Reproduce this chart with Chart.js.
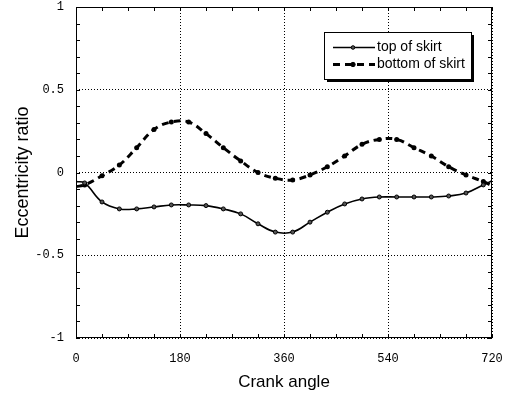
<!DOCTYPE html>
<html>
<head>
<meta charset="utf-8">
<script src="https://cdn.jsdelivr.net/npm/chart.js@4"></script>
<style>
  html, body { margin: 0; padding: 0; background: #fff; }
  #wrap { width: 512px; height: 401px; }
</style>
</head>
<body>
<div id="wrap"><canvas id="eccChart" width="512" height="401"></canvas></div>
<script>
// crank angle (deg) - markers sit at 15 + 30k
const angles = [0, 15, 45, 75, 105, 135, 165, 195, 225, 255, 285, 315, 345,
                375, 405, 435, 465, 495, 525, 555, 585, 615, 645, 675, 705, 720];
const topOfSkirt = [-0.055, -0.063, -0.178, -0.22, -0.22, -0.208, -0.196, -0.196, -0.20, -0.22, -0.25, -0.31, -0.36,
                    -0.36, -0.30, -0.24, -0.19, -0.16, -0.148, -0.148, -0.148, -0.148, -0.142, -0.124, -0.075, -0.05];
const bottomOfSkirt = [-0.085, -0.075, -0.02, 0.045, 0.15, 0.26, 0.305, 0.305, 0.235, 0.15, 0.07, 0.0, -0.035,
                       -0.045, -0.015, 0.035, 0.1, 0.17, 0.2, 0.2, 0.15, 0.1, 0.035, -0.015, -0.055, -0.08];
const seriesNames = ["top of skirt", "bottom of skirt"];
const xTicks = [0, 180, 360, 540, 720];
const yTicks = [-1, -0.5, 0, 0.5, 1];
const yTickLabels = ["-1", "-0.5", "0", "0.5", "1"];

function markerAt(c) {
    return angles[c.dataIndex] % 30 === 15;
}

// let the plot box reach the layout padding, labels may overhang
function noOverhang(s) {
    s.paddingTop = 0; s.paddingBottom = 0;
    s.paddingLeft = 0; s.paddingRight = 0;
}

const frameAndLegend = {
    id: 'frameAndLegend',
    afterDraw(chart) {
        const ctx = chart.ctx;
        const a = chart.chartArea;
        const x = chart.scales.x, y = chart.scales.y;
        ctx.save();
        ctx.strokeStyle = '#000';
        ctx.lineWidth = 1;
        // frame
        ctx.strokeRect(Math.round(a.left) + 0.5, Math.round(a.top) + 0.5,
                       Math.round(a.width) - 1, Math.round(a.height) - 1);
        // inward ticks on all four sides
        ctx.beginPath();
        x.ticks.forEach(t => {
            const px = Math.round(x.getPixelForValue(t.value)) + 0.5;
            ctx.moveTo(px, a.bottom); ctx.lineTo(px, a.bottom - 4);
            ctx.moveTo(px, a.top); ctx.lineTo(px, a.top + 4);
        });
        y.ticks.forEach(t => {
            const py = Math.round(y.getPixelForValue(t.value)) + 0.5;
            ctx.moveTo(a.left, py); ctx.lineTo(a.left + 4, py);
            ctx.moveTo(a.right, py); ctx.lineTo(a.right - 4, py);
        });
        ctx.stroke();

        // legend box with shadow
        const bx = 324, by = 32, bw = 147, bh = 47;
        ctx.fillStyle = '#000';
        ctx.fillRect(bx + 3, by + 3, bw, bh);
        ctx.fillStyle = '#fff';
        ctx.fillRect(bx, by, bw, bh);
        ctx.strokeRect(bx + 0.5, by + 0.5, bw, bh);

        ctx.font = '14px "Liberation Sans", Arial, sans-serif';
        ctx.textBaseline = 'middle';
        ctx.fillStyle = '#000';
        const rows = [47, 64];
        chart.data.datasets.forEach((ds, i) => {
            const ly = rows[i] + 0.5;
            ctx.save();
            ctx.lineWidth = ds.borderWidth;
            ctx.setLineDash(ds.borderDash || []);
            ctx.beginPath();
            ctx.moveTo(333, ly); ctx.lineTo(375, ly);
            ctx.stroke();
            ctx.setLineDash([]);
            ctx.beginPath();
            ctx.arc(353, ly, ds.legendRadius, 0, Math.PI * 2);
            ctx.fillStyle = ds.pointBackgroundColor;
            ctx.fill();
            ctx.lineWidth = 1;
            ctx.stroke();
            ctx.restore();
            ctx.fillText(ds.label, 377, rows[i]);
        });
        ctx.restore();
    }
};

const ctx = document.getElementById('eccChart');
new Chart(ctx, {
    type: 'line',
    data: {
        datasets: [{
            label: seriesNames[0],
            data: angles.map((a, i) => ({x: a, y: topOfSkirt[i]})),
            borderColor: '#000',
            borderWidth: 1.6,
            tension: 0.4,
            pointRadius: c => markerAt(c) ? 2 : 0,
            pointBackgroundColor: '#555',
            pointBorderColor: '#000',
            pointBorderWidth: 1,
            legendRadius: 1.8,
            fill: false
        }, {
            label: seriesNames[1],
            data: angles.map((a, i) => ({x: a, y: bottomOfSkirt[i]})),
            borderColor: '#000',
            borderWidth: 3,
            borderDash: [7, 5],
            tension: 0.4,
            pointRadius: c => markerAt(c) ? 2.5 : 0,
            pointBackgroundColor: '#000',
            pointBorderColor: '#000',
            pointBorderWidth: 0,
            legendRadius: 2.2,
            fill: false
        }]
    },
    options: {
        responsive: false,
        animation: false,
        layout: { padding: { left: 0, top: 7, right: 20, bottom: 0 } },
        plugins: {
            legend: { display: false },
            tooltip: { enabled: false }
        },
        scales: {
            x: {
                type: 'linear',
                min: 0,
                max: 720,
                afterFit: s => { s.height = 63; noOverhang(s); },
                ticks: {
                    stepSize: 45,
                    autoSkip: false,
                    maxRotation: 0,
                    padding: 14,
                    color: '#000',
                    font: { family: '"Liberation Mono", "DejaVu Sans Mono", monospace', size: 12 },
                    callback: v => xTicks.includes(v) ? String(v) : ''
                },
                grid: {
                    drawTicks: false,
                    color: c => (c.tick && xTicks.includes(c.tick.value)) ? '#000' : 'rgba(0,0,0,0)',
                    lineWidth: 1
                },
                border: { display: false, dash: [1, 2] },
                title: {
                    display: true,
                    text: 'Crank angle',
                    color: '#000',
                    font: { family: '"Liberation Sans", Arial, sans-serif', size: 17 },
                    padding: { top: 0, bottom: 8 }
                }
            },
            y: {
                type: 'linear',
                min: -1,
                max: 1,
                afterFit: s => { s.width = 76; noOverhang(s); },
                ticks: {
                    stepSize: 0.1,
                    autoSkip: false,
                    padding: 12,
                    color: '#000',
                    font: { family: '"Liberation Mono", "DejaVu Sans Mono", monospace', size: 12 },
                    callback: v => {
                        const k = yTicks.findIndex(t => Math.abs(t - v) < 1e-6);
                        return k >= 0 ? yTickLabels[k] : '';
                    }
                },
                grid: {
                    drawTicks: false,
                    color: c => (c.tick && yTicks.some(t => Math.abs(t - c.tick.value) < 1e-6)) ? '#000' : 'rgba(0,0,0,0)',
                    lineWidth: 1
                },
                border: { display: false, dash: [1, 2] },
                title: {
                    display: true,
                    text: 'Eccentricity ratio',
                    color: '#000',
                    font: { family: '"Liberation Sans", Arial, sans-serif', size: 18 },
                    padding: { top: 12, bottom: 0 }
                }
            }
        }
    },
    plugins: [frameAndLegend]
});
</script>
</body>
</html>
